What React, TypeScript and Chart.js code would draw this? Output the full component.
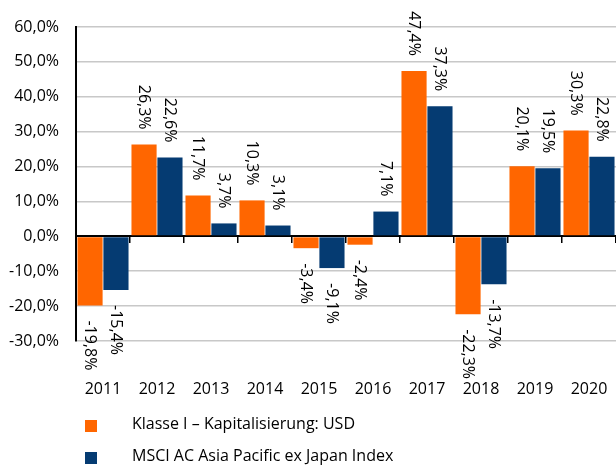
import React, { useEffect, useRef } from 'react';
import { Chart, registerables } from 'chart.js';

Chart.register(...registerables);

const years = ['2011', '2012', '2013', '2014', '2015', '2016', '2017', '2018', '2019', '2020'];
const fundLabel = 'Klasse I – Kapitalisierung: USD';
const indexLabel = 'MSCI AC Asia Pacific ex Japan Index';
const fundValues = [-19.8, 26.3, 11.7, 10.3, -3.4, -2.4, 47.4, -22.3, 20.1, 30.3];
const indexValues = [-15.4, 22.6, 3.7, 3.1, -9.1, 7.1, 37.3, -13.7, 19.5, 22.8];
const yMin = -30;
const yMax = 60;
const yStep = 10;
const fundColor = '#FF6600';
const indexColor = '#053B72';

const FONT = '"Open Sans", "Noto Sans", sans-serif';
const fmt = (v: number) => v.toFixed(1).replace('.', ',') + '%';

const valueLabels = {
  id: 'valueLabels',
  afterDatasetsDraw(chart: any) {
    const ctx = chart.ctx;
    const gap = 15;
    ctx.save();
    ctx.font = `16px ${FONT}`;
    ctx.fillStyle = '#000';
    ctx.textBaseline = 'middle';
    chart.data.datasets.forEach((ds: any, di: number) => {
      const meta = chart.getDatasetMeta(di);
      meta.data.forEach((bar: any, i: number) => {
        const v = ds.data[i] as number;
        const { x, y } = bar.getProps(['x', 'y'], true);
        ctx.save();
        ctx.translate(x, v >= 0 ? y - gap : y + gap);
        ctx.rotate(Math.PI / 2);
        ctx.textAlign = v >= 0 ? 'right' : 'left';
        ctx.fillText(fmt(v), 0, 0);
        ctx.restore();
      });
    });
    ctx.restore();
  },
};

const bottomLegend = {
  id: 'bottomLegend',
  afterDraw(chart: any) {
    const ctx = chart.ctx;
    const h = chart.height;
    const rows = [h - 43, h - 11];
    ctx.save();
    ctx.font = `16px ${FONT}`;
    ctx.textBaseline = 'middle';
    ctx.textAlign = 'left';
    chart.data.datasets.forEach((ds: any, i: number) => {
      const cy = rows[i];
      ctx.fillStyle = ds.backgroundColor;
      ctx.fillRect(85, cy - 4, 12, 12);
      ctx.fillStyle = '#000';
      ctx.fillText(ds.label, 132, cy);
    });
    ctx.restore();
  },
};

export default function App() {
  const ref = useRef<HTMLCanvasElement | null>(null);

  useEffect(() => {
    if (!ref.current) return;
    Chart.defaults.font.family = FONT;
    Chart.defaults.font.size = 16;
    Chart.defaults.color = '#000';
    const chart = new Chart(ref.current, {
      type: 'bar',
      data: {
        labels: years,
        datasets: [
          { label: fundLabel, data: fundValues, backgroundColor: fundColor, categoryPercentage: 0.96, barPercentage: 0.97 },
          { label: indexLabel, data: indexValues, backgroundColor: indexColor, categoryPercentage: 0.96, barPercentage: 0.97 },
        ],
      },
      options: {
        responsive: true,
        maintainAspectRatio: false,
        animation: false,
        devicePixelRatio: 1,
        layout: { padding: { top: 27, right: 0, bottom: 67, left: 0 } },
        plugins: { legend: { display: false }, tooltip: { enabled: false } },
        scales: {
          x: {
            type: 'category',
            position: { y: 0 } as any,
            offset: true,
            grid: { offset: true, drawOnChartArea: false, drawTicks: true, tickLength: 6, color: '#000', lineWidth: 1.5 },
            border: { display: true, color: '#000', width: 2 },
            ticks: { display: false },
          },
          x2: {
            type: 'category',
            position: 'bottom',
            offset: true,
            grid: { display: true, drawOnChartArea: false, drawTicks: true, tickLength: 39, tickColor: 'rgba(0,0,0,0)', color: 'rgba(0,0,0,0)' },
            border: { display: false },
            ticks: { padding: 0, font: { size: 16, family: FONT }, color: '#000', maxRotation: 0 },
            afterFit: (s: any) => { s.height = 59; },
          },
          y: {
            min: yMin,
            max: yMax,
            ticks: {
              stepSize: yStep,
              padding: 17,
              font: { size: 16, family: FONT },
              color: '#000',
              callback: (v: any) => fmt(Number(v)),
            },
            grid: {
              drawTicks: false,
              color: (c: any) => (c.tick && c.tick.value === 0 ? '#000' : '#c8c8c8'),
              lineWidth: (c: any) => (c.tick && c.tick.value === 0 ? 2 : 1.5),
            },
            border: { display: true, color: '#000', width: 2 },
            afterFit: (s: any) => { s.width = 76; },
          },
        },
      },
      plugins: [valueLabels, bottomLegend],
    });
    return () => chart.destroy();
  }, []);

  return (
    <div style={{ position: 'fixed', left: 0, top: 0, width: 616, height: 467, background: '#fff' }}>
      <canvas ref={ref} />
    </div>
  );
}
